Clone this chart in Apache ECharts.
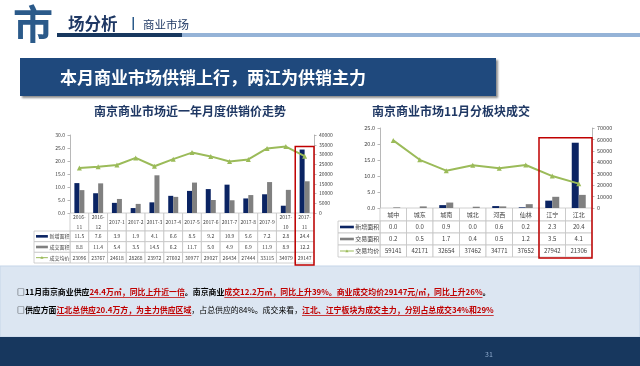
<!DOCTYPE html>
<html><head><meta charset="utf-8">
<script src="https://cdn.jsdelivr.net/npm/echarts@6/dist/echarts.min.js"></script>
<style>html,body{margin:0;padding:0;background:#fff}#c{width:640px;height:366px}</style>
</head><body><div id="c"></div>
<script>
// ---------- data ----------
const months = ['2016-11','2016-12','2017-1','2017-2','2017-3','2017-4','2017-5','2017-6','2017-7','2017-8','2017-9','2017-10','2017-11'];
const monthNew = [11.5,7.6,3.9,1.9,4.1,6.6,8.5,9.2,10.9,5.6,7.2,2.8,24.4];
const monthDeal = [8.8,11.4,5.4,3.5,14.5,6.2,11.7,5.0,4.9,6.9,11.9,8.9,12.2];
const monthPrice = [23096,23767,24618,28268,23972,27602,30977,29027,26434,27444,33115,34079,29147];
const monthNames = ['新增面积','成交面积','成交均价'];
const monthAreaAxis = [0,30,5];
const monthPriceAxis = [0,40000,5000];

const districts = ['城中','城东','城南','城北','河西','仙林','江宁','江北'];
const distNew = [0.0,0.0,0.9,0.0,0.6,0.2,2.3,20.4];
const distDeal = [0.2,0.5,1.7,0.4,0.5,1.2,3.5,4.1];
const distPrice = [59141,42171,32654,37462,34771,37652,27942,21306];
const distNames = ['新增面积','交易面积','交易均价'];
const distAreaAxis = [0,25,5];
const distPriceAxis = [0,70000,10000];

// ---------- layout / style ----------
const FONT = '"Noto Sans CJK SC","Microsoft YaHei",sans-serif';
const NAVY = '#0b2463', GRAY = '#808080', GREEN = '#9bbb59', RED = '#c00000';
const AX = '#a6a6a6', TXT = '#404040', BORDER = '#c4c4c4';
const L = {left:70, top:135, width:244, height:78, tableH:50, headH:18, legW:36, font:5};
const R = {left:380, top:128, width:212, height:80, tableH:49, headH:13, legW:42, font:6};

const chart = echarts.init(document.getElementById('c'), null, {renderer:'canvas', width:640, height:366});

function tableRenderer(cfg, cats, rows, names, colors) {
  return function (params, api) {
    const cs = params.coordSys;
    const c = api.value(0), r = api.value(1), isLeg = api.value(2);
    const band = api.size([1, 0])[0];
    const rowH = (cs.height - cfg.headH) / 3;
    const y = r === 0 ? cs.y : cs.y + cfg.headH + (r - 1) * rowH;
    const h = r === 0 ? cfg.headH : rowH;
    let x, w;
    if (isLeg) { x = cs.x - cfg.legW; w = cfg.legW; }
    else { x = api.coord([c, 0])[0] - band / 2; w = band; }
    const children = [{type:'rect', shape:{x:x, y:y, width:w, height:h},
      style:{fill:'#fff', stroke:BORDER, lineWidth:0.8}}];
    const font = cfg.font + 'px ' + FONT;
    if (isLeg) {
      const sx = x + 2, sw = cfg.legW * 0.33, cy = y + h / 2;
      if (r < 3) {
        children.push({type:'rect', shape:{x:sx, y:cy - 1.3, width:sw, height:2.6}, style:{fill:colors[r - 1]}});
      } else {
        children.push({type:'line', shape:{x1:sx, y1:cy, x2:sx + sw, y2:cy}, style:{stroke:colors[2], lineWidth:1}});
        children.push({type:'polygon', shape:{points:[[sx + sw/2, cy - 1.6],[sx + sw/2 - 1.6, cy + 1.2],[sx + sw/2 + 1.6, cy + 1.2]]}, style:{fill:colors[2]}});
      }
      children.push({type:'text', style:{text:names[r - 1], x:sx + sw + 1.5, y:cy, font:font, fill:TXT,
        textAlign:'left', textVerticalAlign:'middle', align:'left', verticalAlign:'middle'}});
    } else {
      let t;
      if (r === 0) { t = cats[c].length > 6 ? cats[c].replace('-', '-\n') : cats[c]; }
      else { const v = rows[r - 1][c]; t = r === 3 ? String(v) : v.toFixed(1); }
      children.push({type:'text', style:{text:t, x:x + w / 2, y:y + h / 2, font:font, fill:TXT,
        lineHeight: cfg.font * 1.9,
        textAlign:'center', textVerticalAlign:'middle', align:'center', verticalAlign:'middle'}});
    }
    return {type:'group', children:children};
  };
}
function tableData(n) {
  const d = [];
  for (let c = 0; c < n; c++) for (let r = 0; r < 4; r++) d.push([c, r, 0]);
  for (let r = 1; r < 4; r++) d.push([0, r, 1]);
  return d;
}
function valAxis(grid, rng, pos, fmt, fs, show) {
  return {gridIndex:grid, type:'value', position:pos, min:rng[0], max:rng[1], interval:rng[2],
    axisLabel:{show:show, formatter:fmt, fontSize:fs, color:TXT, fontFamily:FONT, margin:5},
    axisLine:{show:show, lineStyle:{color:AX, width:0.8}},
    axisTick:{show:show, length:2.5, lineStyle:{color:AX, width:0.8}},
    splitLine:{show:false}};
}
const f1 = v => v.toFixed(1), f0 = v => String(v);

chart.setOption({
  animation:false,
  textStyle:{fontFamily:FONT},
  title:[
    {text:'南京商业市场近一年月度供销价走势', left:185, top:100, textAlign:'center',
      textStyle:{fontSize:12, fontWeight:'bold', color:'#1f3864', fontFamily:FONT}},
    {text:'南京商业市场11月分板块成交', left:446, top:100, textAlign:'center',
      textStyle:{fontSize:12, fontWeight:'bold', color:'#1f3864', fontFamily:FONT}}
  ],
  grid:[
    {left:L.left, top:L.top, width:L.width, height:L.height},
    {left:L.left, top:L.top + L.height, width:L.width, height:L.tableH},
    {left:R.left, top:R.top, width:R.width, height:R.height},
    {left:R.left, top:R.top + R.height, width:R.width, height:R.tableH}
  ],
  xAxis:[
    {gridIndex:0, type:'category', data:months, axisLabel:{show:false}, axisTick:{show:false}, axisLine:{lineStyle:{color:BORDER}}},
    {gridIndex:1, type:'category', data:months, show:false},
    {gridIndex:2, type:'category', data:districts, axisLabel:{show:false}, axisTick:{show:false}, axisLine:{lineStyle:{color:BORDER}}},
    {gridIndex:3, type:'category', data:districts, show:false}
  ],
  yAxis:[
    valAxis(0, monthAreaAxis, 'left', f1, 5, true),
    valAxis(0, monthPriceAxis, 'right', f0, 5, true),
    {gridIndex:1, type:'value', min:0, max:1, show:false},
    valAxis(2, distAreaAxis, 'left', f1, 5.5, true),
    valAxis(2, distPriceAxis, 'right', f0, 5.5, true),
    {gridIndex:3, type:'value', min:0, max:1, show:false}
  ],
  series:[
    {type:'bar', name:monthNames[0], xAxisIndex:0, yAxisIndex:0, data:monthNew, barWidth:5, barGap:'0%', itemStyle:{color:NAVY}},
    {type:'bar', name:monthNames[1], xAxisIndex:0, yAxisIndex:0, data:monthDeal, barWidth:5, barGap:'0%', itemStyle:{color:GRAY}},
    {type:'line', name:monthNames[2], xAxisIndex:0, yAxisIndex:1, data:monthPrice, symbol:'triangle', symbolSize:5,
      lineStyle:{color:GREEN, width:2}, itemStyle:{color:GREEN}},
    {type:'custom', xAxisIndex:1, yAxisIndex:2, clip:false, silent:true, data:tableData(months.length),
      renderItem:tableRenderer(L, months, [monthNew, monthDeal, monthPrice], monthNames, [NAVY, GRAY, GREEN])},
    {type:'bar', name:distNames[0], xAxisIndex:2, yAxisIndex:3, data:distNew, barWidth:7, barGap:'0%', itemStyle:{color:NAVY}},
    {type:'bar', name:distNames[1], xAxisIndex:2, yAxisIndex:3, data:distDeal, barWidth:7, barGap:'0%', itemStyle:{color:GRAY}},
    {type:'line', name:distNames[2], xAxisIndex:2, yAxisIndex:4, data:distPrice, symbol:'triangle', symbolSize:5,
      lineStyle:{color:GREEN, width:2}, itemStyle:{color:GREEN}},
    {type:'custom', xAxisIndex:3, yAxisIndex:5, clip:false, silent:true, data:tableData(districts.length),
      renderItem:tableRenderer(R, districts, [distNew, distDeal, distPrice], distNames, [NAVY, GRAY, GREEN])}
  ]
});

// ---------- slide decoration (graphic) ----------
const g = [];
function txt(x, y, text, font, fill, align) {
  g.push({type:'text', x:x, y:y, silent:true, style:{text:text, font:font, fill:fill,
    textAlign:align || 'left', textVerticalAlign:'middle', align:align || 'left', verticalAlign:'middle'}});
}
g.push({type:'rect', shape:{x:0, y:266, width:640, height:71}, style:{fill:'#dce6f2', stroke:'#c5d5e8', lineWidth:1}});
g.push({type:'rect', shape:{x:0, y:337, width:640, height:29}, style:{fill:'#17375e'}});
txt(489, 354, '31', '7px ' + FONT, '#8da9cc', 'center');
g.push({type:'rect', shape:{x:182, y:33, width:458, height:4}, style:{fill:'#95b3d7'}});
g.push({type:'rect', shape:{x:57, y:33, width:125, height:4}, style:{fill:'#17375e'}});
txt(13, 24, '市', 'bold 40px ' + FONT, '#2b5a8a');
txt(68, 24, '场分析', 'bold 16.5px ' + FONT, '#1f3864');
g.push({type:'rect', shape:{x:132.5, y:17, width:1.5, height:13}, style:{fill:'#2b5a8a'}});
txt(143, 25, '商业市场', '11.5px ' + FONT, '#1f3864');
g.push({type:'rect', shape:{x:20, y:58, width:476, height:38}, style:{fill:'#1f497d',
  shadowBlur:2, shadowOffsetX:2, shadowOffsetY:2, shadowColor:'rgba(0,0,0,0.45)'}});
txt(60, 77.5, '本月商业市场供销上行，两江为供销主力', 'bold 17px ' + FONT, '#ffffff');

// red highlight boxes from the axes
const bandL = chart.convertToPixel({xAxisIndex:0}, 12) - chart.convertToPixel({xAxisIndex:0}, 11);
const xL = chart.convertToPixel({xAxisIndex:0}, 12) - bandL / 2;
const yL = chart.convertToPixel({yAxisIndex:0}, monthNew[12]) - 3;
g.push({type:'rect', z:100, shape:{x:xL, y:yL, width:bandL, height:L.top + L.height + L.tableH + 2 - yL},
  style:{fill:'none', stroke:RED, lineWidth:1.5}});
const bandR = chart.convertToPixel({xAxisIndex:2}, 7) - chart.convertToPixel({xAxisIndex:2}, 6);
const xR = chart.convertToPixel({xAxisIndex:2}, 6) - bandR / 2;
const yR = chart.convertToPixel({yAxisIndex:3}, distNew[7]) - 5;
g.push({type:'rect', z:100, shape:{x:xR, y:yR, width:bandR * 2, height:R.top + R.height + R.tableH + 1 - yR},
  style:{fill:'none', stroke:RED, lineWidth:1.5}});

// bottom text lines
const line1 = [
  ['□11月南京商业供应','b'], ['24.4万㎡，同比上升近一倍','r'], ['。南京商业','b'],
  ['成交12.2万㎡，同比上升39%。商业成交均价29147元/㎡，同比上升26%','r'], ['。','b']
];
const line2 = [
  ['□供应方面','b'], ['江北总供应20.4万方，为主力供应区域','r'],
  ['，占总供应的84%。成交来看，','n'], ['江北、江宁板块为成交主力，分别占总成交34%和29%','r']
];
const ctx = document.createElement('canvas').getContext('2d');
function fontOf(kind, fs) { return (kind === 'n' ? '' : 'bold ') + fs + 'px ' + FONT; }
function widthOf(segs, fs) {
  let w = 0; segs.forEach(s => { ctx.font = fontOf(s[1], fs); w += ctx.measureText(s[0]).width; }); return w;
}
const fs = Math.round(10 * 478 / widthOf(line2, 10) * 10) / 10;
function drawLine(segs, x0, yc) {
  let x = x0;
  segs.forEach(s => {
    ctx.font = fontOf(s[1], fs);
    const w = ctx.measureText(s[0]).width;
    txt(x, yc, s[0], fontOf(s[1], fs), s[1] === 'r' ? RED : '#000000');
    if (s[1] === 'r') g.push({type:'rect', shape:{x:x, y:yc + fs * 0.62, width:w, height:0.8}, style:{fill:RED}});
    x += w;
  });
}
drawLine(line1, 17, 292);
drawLine(line2, 17, 310);

chart.setOption({graphic: g});
</script></body></html>
